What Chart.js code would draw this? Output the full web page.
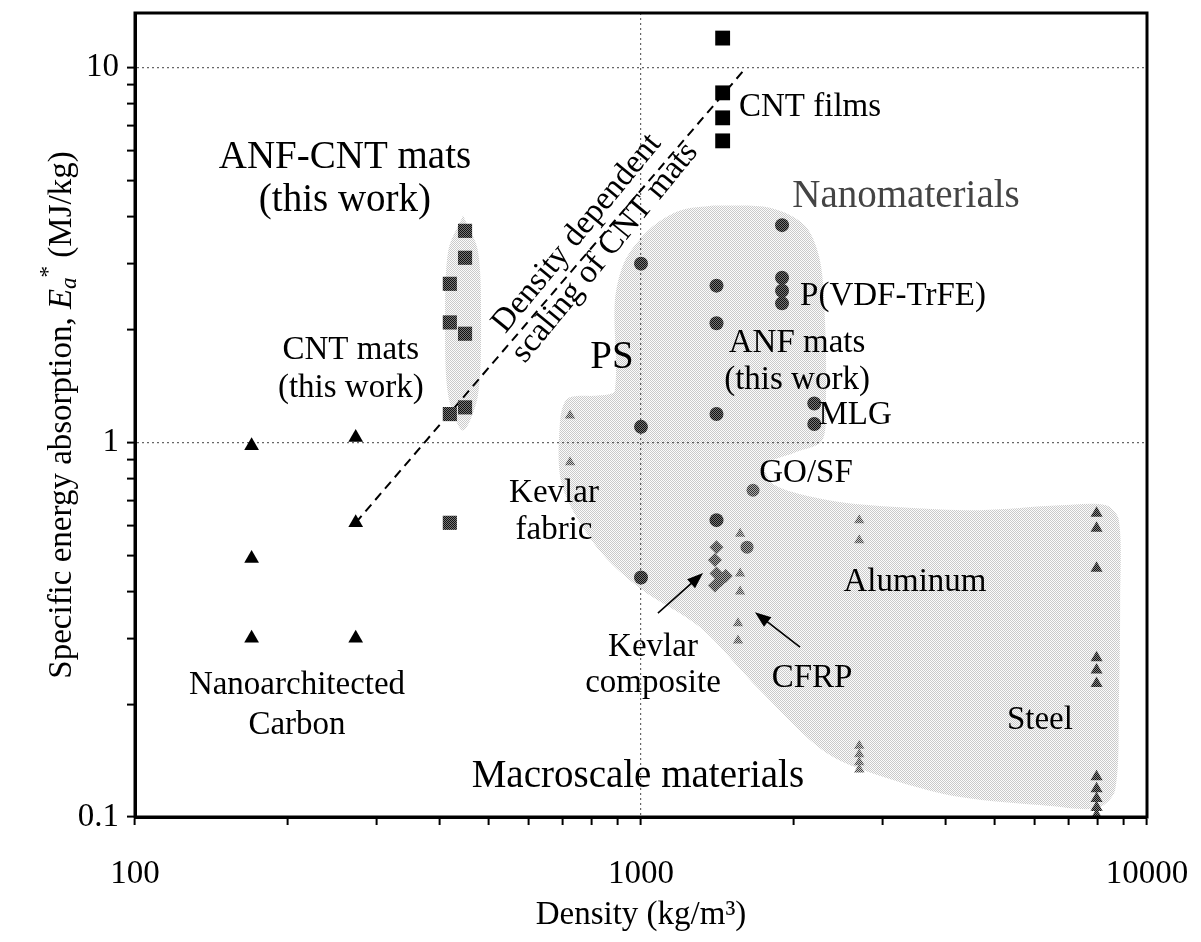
<!DOCTYPE html>
<html>
<head>
<meta charset="utf-8">
<script src="https://cdn.jsdelivr.net/npm/chart.js@4.4.0/dist/chart.umd.min.js"></script>
<style>
	body { margin: 0; background: #fff; }
</style>
</head>
<body>
<canvas id="myChart" width="1201" height="942"></canvas>
<script>
// tick labels
const xTickLabels = [100, 1000, 10000];
const yTickLabels = [0.1, 1, 10];

// series, [density kg/m3, energy MJ/kg]
const nanoCarbon = [[170, 0.98], [170, 0.49], [170, 0.30], [273, 1.03], [273, 0.61], [273, 0.30]];
const anfCntMats = [[449, 3.67], [449, 3.11], [419, 2.65], [419, 2.09], [449, 1.95]];
const cntMats = [[419, 1.19], [449, 1.24], [419, 0.61]];
const cntFilms = [[1450, 12.0], [1450, 8.57], [1450, 7.35], [1450, 6.38]];
const nanoCircles = [[1000, 3.0], [1410, 2.62], [1410, 2.08], [1410, 1.19], [1000, 1.10], [1900, 3.8], [1900, 2.75], [1900, 2.54], [1900, 2.35], [2200, 1.27], [2200, 1.12], [1000, 0.436], [1410, 0.62]];
const lightCircles = [[1665, 0.745], [1620, 0.525]];
const kevlarFabric = [[724, 1.18], [724, 0.885]];
const cfrp = [[1570, 0.57], [1570, 0.447], [1570, 0.40], [1555, 0.329], [1555, 0.296]];
const kevlarComposite = [[1410, 0.525], [1400, 0.485], [1410, 0.447], [1470, 0.44], [1400, 0.415], [1440, 0.43]];
const aluminum = [[2700, 0.62], [2700, 0.548], [2700, 0.155], [2700, 0.147], [2700, 0.14], [2700, 0.134]];
const steel = [[7950, 0.647], [7950, 0.59], [7950, 0.461], [7950, 0.266], [7950, 0.247], [7950, 0.227], [7950, 0.128], [7950, 0.119], [7950, 0.112], [7950, 0.106], [7950, 0.101]];
const scalingLine = [[273, 0.61], [1605, 9.93]];

// shaded areas, outlines
const anfCntArea = [[445, 4.03], [476, 3.25], [483, 2.09], [476, 1.33], [445, 1.076], [416, 1.33], [410, 2.09], [416, 3.25], [445, 4.03]];
const materialsArea = [[1388, 4.29], [1799, 4.23], [2109, 3.79], [2258, 3.06], [2310, 2.12], [2320, 1.29], [2279, 1.01], [2015, 0.94], [1758, 0.868], [1840, 0.768], [2363, 0.70], [3250, 0.671], [4677, 0.659], [6730, 0.679], [8300, 0.679], [8800, 0.62], [8850, 0.379], [8800, 0.205], [8650, 0.118], [8000, 0.1057], [6432, 0.107], [4270, 0.113], [3148, 0.1255], [2331, 0.148], [1719, 0.218], [1308, 0.321], [995, 0.408], [818, 0.525], [698, 0.768], [692, 1.145], [717, 1.31], [830, 1.335], [888, 1.376], [888, 2.39], [930, 3.06], [1042, 3.72], [1194, 4.16], [1388, 4.29]];

const labels = [
	{ text: "ANF-CNT mats", x: 260, y: 5.75, size: 39 },
	{ text: "(this work)", x: 260, y: 4.42, size: 39 },
	{ text: "CNT mats", x: 267, y: 1.76 },
	{ text: "(this work)", x: 267, y: 1.393 },
	{ text: "PS", x: 876, y: 1.686, size: 39 },
	{ text: "CNT films", x: 2158, y: 7.82 },
	{ text: "Nanomaterials", x: 3340, y: 4.53, size: 39, color: "#444" },
	{ text: "P(VDF-TrFE)", x: 3148, y: 2.45 },
	{ text: "ANF mats", x: 2034, y: 1.837 },
	{ text: "(this work)", x: 2034, y: 1.463 },
	{ text: "MLG", x: 2649, y: 1.18 },
	{ text: "GO/SF", x: 2119, y: 0.827 },
	{ text: "Kevlar", x: 673, y: 0.731 },
	{ text: "fabric", x: 673, y: 0.582 },
	{ text: "Kevlar", x: 1056, y: 0.284 },
	{ text: "composite", x: 1056, y: 0.228 },
	{ text: "CFRP", x: 2178, y: 0.235 },
	{ text: "Aluminum", x: 3479, y: 0.423 },
	{ text: "Steel", x: 6143, y: 0.1814 },
	{ text: "Nanoarchitected", x: 209, y: 0.225 },
	{ text: "Carbon", x: 209, y: 0.176 },
	{ text: "Macroscale materials", x: 986, y: 0.128, size: 39 },
	{ text: "Density dependent", x: 747, y: 3.61, rot: -50.6 },
	{ text: "scaling of CNT mats", x: 849, y: 3.21, rot: -50.6 },
];
const arrows = [
	{ from: [1080, 0.35], to: [1326, 0.448] },
	{ from: [2062, 0.284], to: [1680, 0.352] },
];

const FONT = "Liberation Serif";
Chart.defaults.font.family = FONT;
Chart.defaults.color = "#000";

const makePattern = (a, b) => {
	const c = document.createElement("canvas");
	c.width = 2;
	c.height = 2;
	const g = c.getContext("2d");
	g.fillStyle = b;
	g.fillRect(0, 0, 2, 2);
	g.fillStyle = a;
	g.fillRect(0, 0, 1, 1);
	g.fillRect(1, 1, 1, 1);
	return g.createPattern(c, "repeat");
};
const shade = makePattern("rgba(0,0,0,0.2)", "rgba(0,0,0,0.01)");
const dark = makePattern("#111", "#777");
const mid = makePattern("#333", "#aaa");
const light = makePattern("#444", "#ccc");
const steelFill = makePattern("#111", "#888");

const toXY = (arr) => arr.map(([x, y]) => ({ x, y }));

const points = (data, style, radius, fill) => ({
	type: "scatter",
	data: toXY(data),
	pointStyle: style,
	pointRadius: radius,
	backgroundColor: fill,
	borderWidth: 0,
	order: 1,
});
const area = (data) => ({
	type: "line",
	data: toXY(data),
	fill: "shape",
	backgroundColor: shade,
	borderWidth: 0,
	pointRadius: 0,
	tension: 0.3,
	order: 20,
});

const isDecade = (v) => Math.abs(Math.log10(v) - Math.round(Math.log10(v))) < 1e-9;
const wholeSteps = (scale) => {
	scale.ticks = scale.ticks.filter((t) => {
		const m = t.value / Math.pow(10, Math.floor(Math.log10(t.value) + 1e-9));
		return Math.abs(m - Math.round(m)) < 1e-6;
	});
};
const hasLabel = (list, v) => isDecade(v) && list.some((l) => Math.abs(l - v) / l < 1e-6);

const overlay = {
	id: "overlay",
	afterDatasetsDraw(chart) {
		const { ctx, chartArea: a, scales } = chart;
		const px = (x) => scales.x.getPixelForValue(x);
		const py = (y) => scales.y.getPixelForValue(y);

		// arrows
		ctx.save();
		ctx.strokeStyle = "#000";
		ctx.fillStyle = "#000";
		ctx.lineWidth = 1.6;
		arrows.forEach((ar) => {
			const x1 = px(ar.from[0]), y1 = py(ar.from[1]);
			const x2 = px(ar.to[0]), y2 = py(ar.to[1]);
			const ang = Math.atan2(y2 - y1, x2 - x1);
			ctx.beginPath();
			ctx.moveTo(x1, y1);
			ctx.lineTo(x2 - 10 * Math.cos(ang), y2 - 10 * Math.sin(ang));
			ctx.stroke();
			ctx.beginPath();
			ctx.moveTo(x2, y2);
			ctx.lineTo(x2 - 16 * Math.cos(ang) + 6 * Math.sin(ang), y2 - 16 * Math.sin(ang) - 6 * Math.cos(ang));
			ctx.lineTo(x2 - 16 * Math.cos(ang) - 6 * Math.sin(ang), y2 - 16 * Math.sin(ang) + 6 * Math.cos(ang));
			ctx.closePath();
			ctx.fill();
		});
		ctx.restore();

		// labels
		ctx.save();
		ctx.textAlign = "center";
		ctx.textBaseline = "middle";
		labels.forEach((l) => {
			ctx.save();
			ctx.translate(px(l.x), py(l.y));
			if (l.rot) ctx.rotate((l.rot * Math.PI) / 180);
			ctx.font = `${l.size || 33}px "${FONT}"`;
			ctx.fillStyle = l.color || "#000";
			ctx.fillText(l.text, 0, 0);
			ctx.restore();
		});
		ctx.restore();

		// frame
		ctx.save();
		ctx.strokeStyle = "#000";
		ctx.lineWidth = 3;
		ctx.strokeRect(a.left, a.top, a.right - a.left, a.bottom - a.top);
		ctx.restore();

		// y title with italic E, subscript a, superscript *
		const fs = 33;
		const parts = [
			{ t: "Specific energy absorption, ", f: `${fs}px "${FONT}"`, dy: 0 },
			{ t: "E", f: `italic ${fs}px "${FONT}"`, dy: 0 },
			{ t: "a", f: `italic 23px "${FONT}"`, dy: 8 },
			{ t: "*", f: `23px "${FONT}"`, dy: -13 },
			{ t: " (MJ/kg)", f: `${fs}px "${FONT}"`, dy: 0 },
		];
		ctx.save();
		ctx.translate(62, (a.top + a.bottom) / 2);
		ctx.rotate(-Math.PI / 2);
		ctx.textBaseline = "middle";
		ctx.textAlign = "left";
		ctx.fillStyle = "#000";
		let total = 0;
		parts.forEach((p) => {
			ctx.font = p.f;
			p.w = ctx.measureText(p.t).width;
			total += p.w;
		});
		let cx = -total / 2;
		parts.forEach((p) => {
			ctx.font = p.f;
			ctx.fillText(p.t, cx, p.dy);
			cx += p.w;
		});
		ctx.restore();
	},
};

const ctx = document.getElementById("myChart");
const myChart = new Chart(ctx, {
	type: "scatter",
	data: {
		datasets: [
			area(anfCntArea),
			area(materialsArea),
			{
				type: "line",
				data: toXY(scalingLine),
				borderColor: "#000",
				borderWidth: 2,
				borderDash: [9, 6],
				pointRadius: 0,
				fill: false,
				order: 5,
			},
			points(kevlarFabric, "triangle", 6, light),
			points(cfrp, "triangle", 6, light),
			points(aluminum, "triangle", 6, light),
			points(kevlarComposite, "rectRot", 7, mid),
			points(lightCircles, "circle", 6.5, mid),
			points(nanoCircles, "circle", 7, dark),
			points(steel, "triangle", 7, steelFill),
			points(nanoCarbon, "triangle", 8.5, "#000"),
			points(anfCntMats, "rect", 10, dark),
			points(cntMats, "rect", 10, dark),
			points(cntFilms, "rect", 10.5, "#000"),
		],
	},
	options: {
		responsive: false,
		animation: false,
		events: [],
		layout: { padding: { left: 0, top: 13, right: 54, bottom: 0 } },
		plugins: { legend: { display: false }, tooltip: { enabled: false } },
		scales: {
			x: {
				type: "logarithmic",
				min: 100,
				max: 10000,
				afterBuildTicks: wholeSteps,
				afterFit: (s) => {
					s.height = 125;
					s.paddingLeft = 0;
					s.paddingRight = 0;
				},
				ticks: {
					autoSkip: false,
					maxRotation: 0,
					padding: 30,
					font: { size: 33 },
					callback: (v) => (hasLabel(xTickLabels, v) ? String(v) : ""),
				},
				grid: {
					color: (c) => (c.tick && Math.abs(c.tick.value - 1000) < 1e-6 ? "#666" : "rgba(0,0,0,0)"),
					lineWidth: 1.2,
					tickColor: "#000",
					tickLength: 8,
					tickWidth: 2,
				},
				border: { color: "#000", width: 3, dash: [2, 3] },
				title: { display: true, text: "Density (kg/m³)", font: { size: 33 }, padding: { bottom: 7, top: 0 } },
			},
			y: {
				type: "logarithmic",
				min: 0.1,
				max: 14,
				afterBuildTicks: wholeSteps,
				afterFit: (s) => {
					s.width = 135;
					s.paddingTop = 0;
					s.paddingBottom = 0;
				},
				ticks: {
					autoSkip: false,
					padding: 8,
					font: { size: 33 },
					callback: (v) => (hasLabel(yTickLabels, v) ? String(v) : ""),
				},
				grid: {
					color: (c) => (c.tick && (Math.abs(c.tick.value - 1) < 1e-6 || Math.abs(c.tick.value - 10) < 1e-6) ? "#666" : "rgba(0,0,0,0)"),
					lineWidth: 1.2,
					tickColor: "#000",
					tickLength: 8,
					tickWidth: 2,
				},
				border: { color: "#000", width: 3, dash: [2, 3] },
			},
		},
	},
	plugins: [overlay],
});
</script>
</body>
</html>
